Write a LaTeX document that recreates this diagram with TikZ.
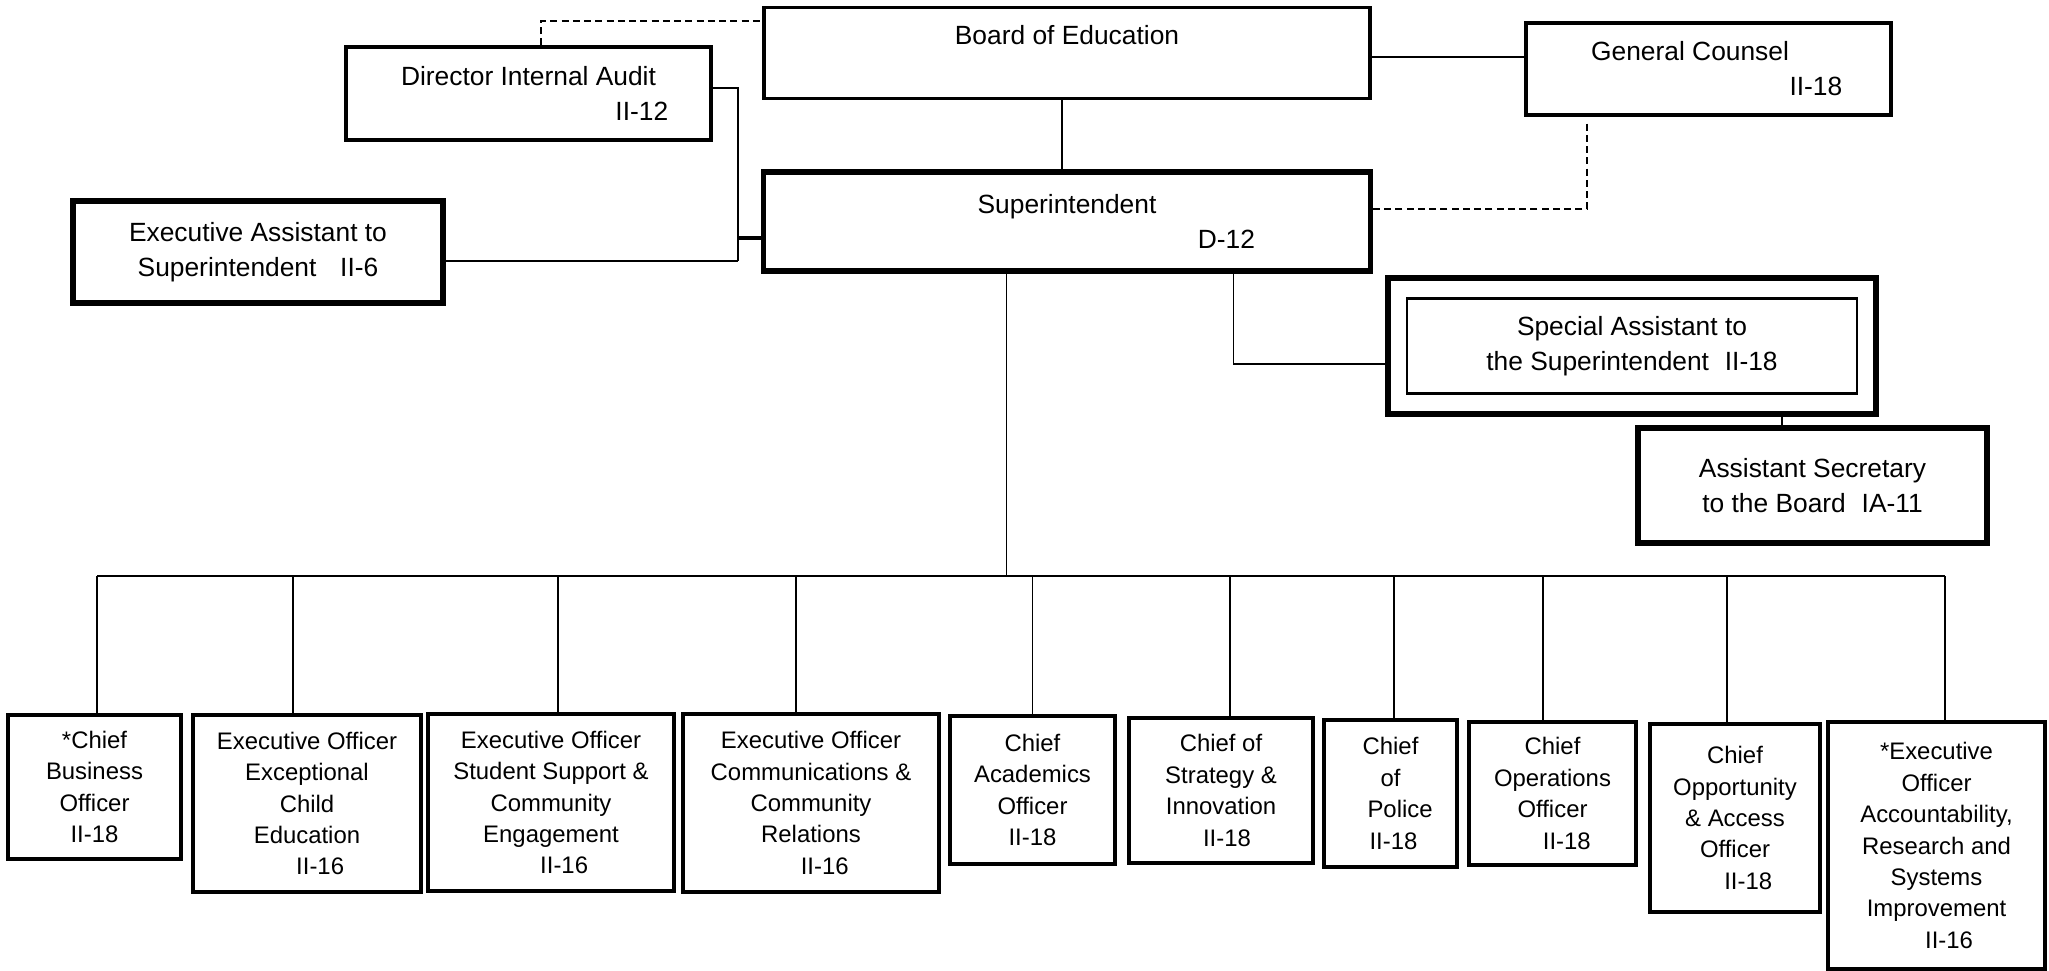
\documentclass[tikz,border=0pt]{standalone}
\usepackage{fontspec}
\setmainfont{Liberation Sans}
\usetikzlibrary{positioning}

\begin{document}
\begin{tikzpicture}[
  box/.style={draw, line width=0.9pt, align=center, inner sep=0pt, font=\fontsize{7.5}{10}\selectfont},
  heavybox/.style={box, line width=1.6pt},
  unit/.style={box, font=\fontsize{6.8}{8.95}\selectfont},
  link/.style={line width=0.5pt},
  dashlink/.style={link, dash pattern=on 2pt off 1.2pt}
]
\useasboundingbox (0,0) rectangle (20.49,-9.71);

% top level
\node[box, minimum width=6.06cm, minimum height=0.91cm] (board) at (10.67,-0.53) {Board of Education\\\mbox{}};
\node[heavybox, below=0.69cm of board, minimum width=6.07cm, minimum height=0.99cm] (sup) {Superintendent\\\hspace*{12.1em}D-12};
\node[box, minimum width=3.65cm, minimum height=0.93cm] (dia) at (5.285,-0.935) {Director Internal Audit\\\hspace*{8.6em}II-12};
\node[box, minimum width=3.65cm, minimum height=0.92cm] (gc) at (17.085,-0.69) {\hspace*{-1.4em}General Counsel\\\hspace*{8.15em}II-18};
\node[heavybox, minimum width=3.70cm, minimum height=1.02cm] (ea) at (2.58,-2.52) {Executive Assistant to\\Superintendent\hspace{0.9em}II-6};
\node[heavybox, line width=1.8pt, minimum width=4.88cm, minimum height=1.36cm] (spa) at (16.32,-3.46) {};
\node[box, line width=0.6pt, minimum width=4.50cm, minimum height=0.95cm] (spain) at (spa.center) {Special Assistant to\\the Superintendent\hspace{0.6em}II-18};
\node[heavybox, minimum width=3.49cm, minimum height=1.15cm] (asb) at (18.125,-4.855) {Assistant Secretary\\to the Board\hspace{0.6em}IA-11};

% units
\node[unit, minimum width=1.73cm, minimum height=1.44cm] (b1) at (0.945,-7.87) {*Chief\\Business\\Officer\\II-18};
\node[unit, minimum width=2.28cm, minimum height=1.77cm] (b2) at (3.07,-8.035) {Executive Officer\\Exceptional\\Child\\Education\\\hspace*{1.1em}II-16};
\node[unit, minimum width=2.46cm, minimum height=1.77cm] (b3) at (5.51,-8.025) {Executive Officer\\Student Support \&\\Community\\Engagement\\\hspace*{1.1em}II-16};
\node[unit, minimum width=2.56cm, minimum height=1.78cm] (b4) at (8.11,-8.03) {Executive Officer\\Communications \&\\Community\\Relations\\\hspace*{1.15em}II-16};
\node[unit, minimum width=1.65cm, minimum height=1.48cm] (b5) at (10.325,-7.90) {Chief\\Academics\\Officer\\II-18};
\node[unit, minimum width=1.84cm, minimum height=1.45cm] (b6) at (12.21,-7.905) {Chief of\\Strategy \&\\Innovation\\\hspace*{0.5em}II-18};
\node[unit, minimum width=1.33cm, minimum height=1.47cm] (b7) at (13.905,-7.935) {Chief\\of\\\hspace*{0.8em}Police\\\hspace*{0.25em}II-18};
\node[unit, minimum width=1.67cm, minimum height=1.43cm] (b8) at (15.525,-7.935) {Chief\\Operations\\Officer\\\hspace*{1.2em}II-18};
\node[unit, minimum width=1.70cm, minimum height=1.88cm] (b9) at (17.35,-8.18) {Chief\\Opportunity\\\& Access\\Officer\\\hspace*{1.1em}II-18};
\node[unit, minimum width=2.17cm, minimum height=2.47cm] (b10) at (19.365,-8.455) {*Executive\\Officer\\Accountability,\\Research and\\Systems\\Improvement\\\hspace*{1.05em}II-16};

% Connectors
\draw[dashlink] ([xshift=0.125cm]dia.north) |- ([yshift=0.32cm]board.west);
\draw[link] ([yshift=-0.04cm]board.east) -- ([yshift=-0.04cm]board.east -| gc.west);
\draw[link] ([xshift=-0.05cm]board.south) -- ([xshift=-0.05cm]board.south |- sup.north);
\draw[dashlink] ([shift={(-1.215cm,-0.07cm)}]gc.south) |- ([yshift=0.125cm]sup.east);
\coordinate (jn) at (7.38,-2.61);
\draw[link] ([yshift=0.055cm]dia.east) -| (jn);
\draw[link] ([yshift=-0.09cm]ea.east) -- (jn);
\draw[line width=1pt] ([yshift=-0.165cm]sup.west) -- ([yshift=-0.165cm]sup.west -| jn);
\draw[link] ([xshift=1.665cm]sup.south) |- ([yshift=-0.18cm]spa.west);
\draw[link] ([xshift=1.5cm]spa.south) -- ([xshift=1.5cm]spa.south |- asb.north);

% Bus
\coordinate (bus) at (10.05,-5.76);
\draw[link] ([xshift=-0.605cm]sup.south) -- ([xshift=-0.605cm]sup.south |- bus);
\draw[link] ([xshift=0.025cm]b1.north |- bus) -- ([xshift=0.085cm]b10.north |- bus);
\foreach \b/\dx in {b1/0.025, b2/-0.14, b3/0.07, b4/-0.15, b5/0, b6/0.09, b7/0.035, b8/-0.095, b9/-0.08, b10/0.085}
  \draw[link] ([xshift=\dx cm]\b.north) -- ([xshift=\dx cm]\b.north |- bus);

\end{tikzpicture}
\end{document}
